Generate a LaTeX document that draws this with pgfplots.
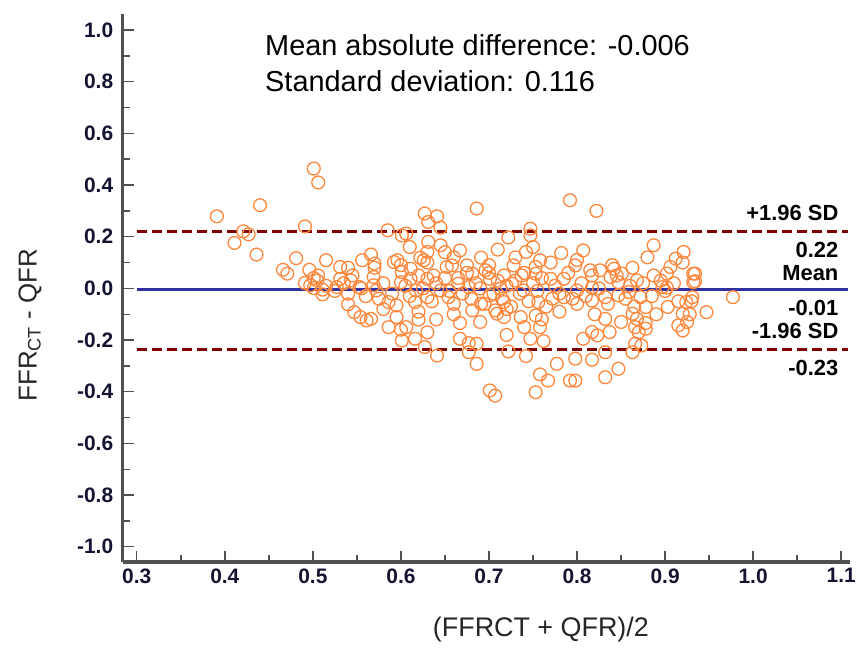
\documentclass[border=0pt]{standalone}
\usepackage{fontspec}
\setmainfont{Liberation Sans}
\usepackage{pgfplots}
\pgfplotsset{compat=1.18}
\definecolor{ptorange}{RGB}{255,135,60}
\definecolor{meanblue}{RGB}{48,48,160}
\definecolor{sdred}{RGB}{128,0,0}
\definecolor{axgray}{RGB}{80,80,80}
\definecolor{tickc}{RGB}{20,20,50}

\pgfplotstableread{
x y
0.391 0.279
0.440 0.322
0.421 0.221
0.427 0.209
0.411 0.176
0.436 0.131
0.501 0.464
0.506 0.410
0.491 0.240
0.481 0.117
0.466 0.072
0.471 0.057
0.515 0.109
0.496 0.072
0.506 0.050
0.501 0.040
0.491 0.021
0.497 0.012
0.501 0.001
0.511 -0.005
0.511 -0.023
0.531 0.083
0.531 0.037
0.540 0.080
0.543 0.031
0.527 0.005
0.540 -0.021
0.540 -0.062
0.547 -0.092
0.554 -0.111
0.561 -0.124
0.566 -0.118
0.556 0.109
0.566 0.131
0.570 0.096
0.569 0.044
0.569 0.012
0.553 0.005
0.572 -0.008
0.585 0.225
0.601 0.205
0.606 0.212
0.592 0.102
0.596 0.109
0.601 0.063
0.611 0.076
0.600 0.024
0.611 0.037
0.586 -0.053
0.595 -0.066
0.595 -0.111
0.586 -0.150
0.606 -0.150
0.620 -0.121
0.616 -0.053
0.601 -0.202
0.616 -0.195
0.627 -0.227
0.641 -0.260
0.627 0.290
0.641 0.279
0.631 0.257
0.645 0.235
0.631 0.180
0.645 0.167
0.622 0.119
0.626 0.109
0.630 0.141
0.630 0.037
0.637 0.050
0.617 -0.008
0.630 -0.034
0.645 -0.008
0.652 0.083
0.654 -0.034
0.686 0.309
0.747 0.231
0.722 0.197
0.747 0.205
0.792 0.341
0.667 0.147
0.691 0.119
0.742 0.141
0.758 0.109
0.782 0.137
0.658 0.089
0.675 0.089
0.681 0.057
0.696 0.070
0.701 0.037
0.728 0.089
0.717 0.050
0.737 0.050
0.753 0.083
0.753 0.057
0.770 0.037
0.785 0.037
0.665 0.018
0.677 0.005
0.701 -0.027
0.713 -0.001
0.726 0.018
0.739 -0.008
0.756 -0.053
0.772 -0.040
0.785 -0.034
0.681 -0.085
0.691 -0.059
0.707 -0.085
0.717 -0.111
0.709 -0.098
0.736 -0.111
0.753 -0.105
0.717 -0.053
0.667 -0.134
0.758 -0.150
0.667 -0.195
0.677 -0.212
0.686 -0.214
0.677 -0.247
0.686 -0.292
0.722 -0.244
0.747 -0.195
0.762 -0.204
0.742 -0.262
0.777 -0.292
0.758 -0.333
0.767 -0.357
0.792 -0.357
0.701 -0.395
0.707 -0.415
0.753 -0.402
0.822 0.300
0.887 0.167
0.807 0.147
0.921 0.141
0.912 0.115
0.906 0.083
0.798 0.089
0.817 0.050
0.826 0.070
0.842 0.076
0.851 0.057
0.863 0.080
0.838 0.044
0.847 0.024
0.868 0.031
0.887 0.050
0.902 0.057
0.932 0.057
0.932 0.024
0.897 0.005
0.902 0.003
0.800 -0.008
0.817 0.003
0.817 -0.047
0.832 -0.034
0.847 -0.027
0.859 -0.014
0.872 -0.034
0.878 -0.072
0.863 -0.098
0.868 -0.118
0.878 -0.134
0.866 -0.150
0.878 -0.156
0.903 -0.072
0.924 -0.053
0.920 -0.098
0.915 -0.143
0.920 -0.163
0.832 -0.118
0.817 -0.169
0.837 -0.169
0.807 -0.195
0.823 -0.182
0.866 -0.214
0.873 -0.221
0.863 -0.247
0.832 -0.247
0.798 -0.272
0.817 -0.276
0.847 -0.311
0.832 -0.344
0.798 -0.357
0.934 0.057
0.934 0.028
0.931 -0.034
0.930 -0.050
0.928 -0.100
0.947 -0.092
0.977 -0.034
0.505 0.030
0.515 0.010
0.525 -0.010
0.535 0.020
0.545 0.050
0.555 0.000
0.560 -0.030
0.575 -0.040
0.580 0.020
0.590 -0.020
0.605 0.010
0.610 -0.030
0.620 0.050
0.625 0.000
0.635 -0.050
0.640 0.020
0.650 0.040
0.655 -0.010
0.660 -0.060
0.665 0.040
0.670 -0.020
0.675 0.060
0.680 -0.040
0.685 0.020
0.690 0.000
0.695 -0.060
0.700 0.060
0.705 -0.020
0.710 0.030
0.715 -0.040
0.720 0.010
0.725 -0.070
0.730 0.030
0.735 -0.020
0.740 0.060
0.745 -0.050
0.750 0.020
0.755 -0.010
0.760 0.040
0.765 -0.070
0.775 0.010
0.780 -0.020
0.790 0.060
0.795 -0.040
0.805 0.020
0.810 -0.030
0.815 0.070
0.825 0.000
0.835 -0.060
0.845 0.050
0.855 -0.040
0.860 0.010
0.865 -0.070
0.875 0.020
0.885 -0.030
0.890 -0.100
0.895 0.030
0.900 -0.010
0.910 0.020
0.915 -0.050
0.920 0.100
0.925 -0.130
0.580 -0.080
0.620 -0.090
0.640 -0.120
0.660 -0.100
0.690 -0.130
0.720 -0.080
0.740 -0.150
0.760 -0.120
0.780 -0.090
0.800 -0.060
0.820 -0.100
0.850 -0.130
0.870 -0.170
0.720 -0.180
0.630 -0.170
0.600 -0.160
0.570 0.080
0.600 0.090
0.630 0.100
0.660 0.120
0.700 0.090
0.730 0.120
0.770 0.100
0.800 0.110
0.840 0.090
0.880 0.120
0.650 0.140
0.710 0.150
0.750 0.160
0.610 0.160
}\pts

\begin{document}
\begin{tikzpicture}
\begin{axis}[
  at={(122.7bp,87bp)}, anchor=south west,
  scale only axis, width=727.3bp, height=548bp,
  xmin=0.284, xmax=1.11, ymin=-1.059, ymax=1.062,
  axis x line*=bottom, axis y line*=left,
  axis line style={line width=3bp, color=axgray},
  xtick={0.3,0.4,0.5,0.6,0.7,0.8,0.9,1.0,1.1},
  ytick={-1,-0.8,-0.6,-0.4,-0.2,0,0.2,0.4,0.6,0.8,1},
  minor x tick num=1, minor y tick num=1,
  tick align=inside,
  major tick length=11bp, minor tick length=7bp,
  tick style={line width=1.4bp, color=axgray},
  tick label style={font=\fontsize{21}{21}\selectfont\bfseries, text=tickc},
  /pgf/number format/fixed, /pgf/number format/fixed zerofill,
  /pgf/number format/precision=1, /pgf/number format/assume math mode=true,
  x tick label style={yshift=-3bp},
  y tick label style={xshift=-6bp},
  xlabel={(FFRCT + QFR)/2},
  ylabel={FFR\textsubscript{CT} - QFR},
  xlabel style={font=\fontsize{27}{27}\selectfont, text=black!85,
    at={(axis description cs:0.575,0)}, anchor=center, yshift=-68bp},
  ylabel style={font=\fontsize{26}{26}\selectfont, text=black!85,
    at={(axis description cs:-0.1275,0.432)}, anchor=center},
  clip=false,
]
\addplot[only marks, mark=o, mark size=6.4bp,
  mark options={draw=ptorange, line width=1.3bp}] table {\pts};
\addplot[sdred, line width=3.5bp, dash pattern=on 10bp off 5bp] coordinates {(0.3,0.221) (1.108,0.221)};
\addplot[sdred, line width=3.5bp, dash pattern=on 10bp off 5bp] coordinates {(0.3,-0.236) (1.108,-0.236)};
\addplot[meanblue, line width=3bp] coordinates {(0.3,-0.006) (1.108,-0.006)};
\begin{scope}[every node/.style={font=\fontsize{22}{22}\selectfont\bfseries, text=black, inner sep=0pt, anchor=base east}]
\node at (axis cs:1.097,0.2636) {+1.96 SD};
\node at (axis cs:1.097,0.120) {0.22};
\node at (axis cs:1.097,0.031) {Mean};
\node at (axis cs:1.097,-0.105) {-0.01};
\node at (axis cs:1.097,-0.194) {-1.96 SD};
\node at (axis cs:1.097,-0.337) {-0.23};
\end{scope}
\node[anchor=base west, inner sep=0pt, font=\fontsize{29}{29}\selectfont] at (rel axis cs:0.1957,0.925) {Mean absolute difference: -0.006};
\node[anchor=base west, inner sep=0pt, font=\fontsize{29}{29}\selectfont] at (rel axis cs:0.1957,0.858) {Standard deviation: 0.116};
\end{axis}
\pgfresetboundingbox
\useasboundingbox (0,0) rectangle (857bp,649bp);
\end{tikzpicture}
\end{document}
